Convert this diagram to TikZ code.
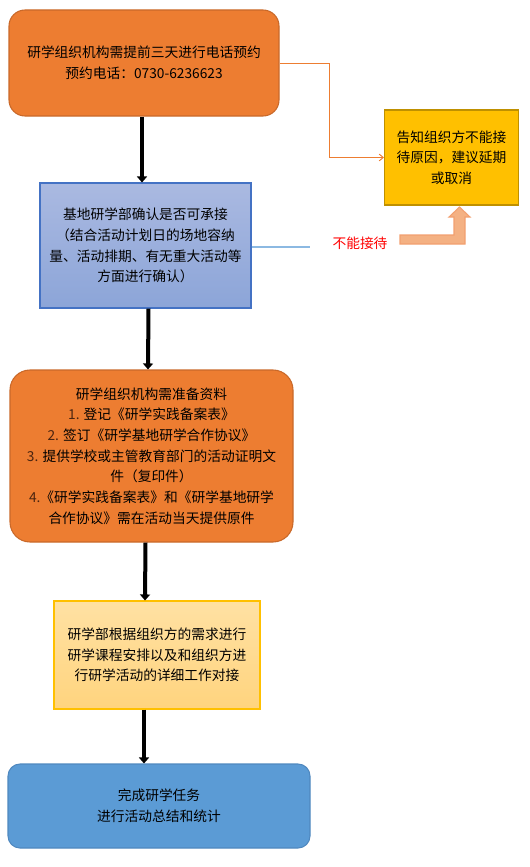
\documentclass[tikz,border=0pt]{standalone}
\usepackage{fontspec}
\newfontfamily\cjk{Noto Sans CJK SC}
\usetikzlibrary{arrows.meta}
\definecolor{orgfill}{HTML}{ED7D31}
\definecolor{orgdraw}{HTML}{C9692A}
\definecolor{bluetop}{HTML}{AAB9E1}
\definecolor{bluebot}{HTML}{8CA5D8}
\definecolor{bluedraw}{HTML}{4472C4}
\definecolor{goldfill}{HTML}{FFC000}
\definecolor{golddraw}{HTML}{BF9000}
\definecolor{ltop}{HTML}{FFE1A3}
\definecolor{lbot}{HTML}{FFD47E}
\definecolor{fin}{HTML}{5B9BD5}
\definecolor{findraw}{HTML}{4F88BF}
\definecolor{salmon}{HTML}{F4B183}
\definecolor{salmondraw}{HTML}{F2A070}
\definecolor{numcol}{HTML}{4A2410}
\def\u{0.75pt}
\begin{document}
\begin{tikzpicture}[x=0.75pt,y=-0.75pt,
  txt/.style={font=\cjk\fontsize{10.3}{15.5}\selectfont,align=center,inner sep=0pt},
  box/.style={txt,draw,line width=0.8pt},
  bigarrow/.style={line width=3pt,-{Triangle[width=7.5pt,length=4.5pt]}}]
\useasboundingbox (0,0) rectangle (529,867);
\node[box,fill=orgfill,draw=orgdraw,rounded corners=12pt,minimum width=270*\u,minimum height=106*\u] (b1) at (144,63)
  {研学组织机构需提前三天进行电话预约\\预约电话：0730-6236623};
\node[box,top color=bluetop,bottom color=bluebot,draw=bluedraw,minimum width=211*\u,minimum height=125*\u] (b2) at (145.5,245.5)
  {基地研学部确认是否可承接\\（结合活动计划日的场地容纳\\量、活动排期、有无重大活动等\\方面进行确认）};
\node[box,fill=goldfill,draw=golddraw,minimum width=134*\u,minimum height=95*\u] (br) at (451.5,157.5)
  {告知组织方不能接\\待原因，建议延期\\或取消};
\node[box,fill=orgfill,draw=orgdraw,rounded corners=15pt,minimum width=283*\u,minimum height=172*\u] (b3) at (151.5,456)
  {研学组织机构需准备资料\\\textcolor{numcol}{1.} 登记《研学实践备案表》\\\textcolor{numcol}{2.} 签订《研学基地研学合作协议》\\\textcolor{numcol}{3.} 提供学校或主管教育部门的活动证明文\\件（复印件）\\\textcolor{numcol}{4.}《研学实践备案表》和《研学基地研学\\合作协议》需在活动当天提供原件};
\node[box,top color=ltop,bottom color=lbot,draw=goldfill,minimum width=206*\u,minimum height=108*\u] (b4) at (157,655)
  {研学部根据组织方的需求进行\\研学课程安排以及和组织方进\\行研学活动的详细工作对接};
\node[box,fill=fin,draw=findraw,rounded corners=9pt,minimum width=302*\u,minimum height=84*\u] (b5) at (159,806)
  {完成研学任务\\进行活动总结和统计};
\node[txt,text=red] (no) at (360,243) {不能接待};
\coordinate (lend) at (310,247);
% connectors
\draw[bigarrow] ([xshift=-2*\u]b1.south) -- ([xshift=-3.5*\u]b2.north);
\draw[bigarrow] ([xshift=3*\u]b2.south) -- ([xshift=-3.5*\u]b3.north);
\draw[bigarrow] ([xshift=-6*\u]b3.south) -- ([xshift=-12*\u]b4.north);
\draw[bigarrow] ([xshift=-13*\u]b4.south) -- ([xshift=-15*\u]b5.north);
\draw[orgfill,line width=0.7pt,-{Straight Barb[length=3pt,width=5pt]}] (b1.east) -- ++(50,0) |- (br.west);
\draw[color=fin!70,line width=0.8pt] (b2.east |- lend) -- (lend);
% block bent arrow
\draw[fill=salmon,draw=salmondraw,line width=0.8pt]
  (400,235) -- (454,235) -- (454,217) -- (449,217) -- (459.5,207) -- (470,217) -- (465,217) -- (465,244) -- (400,244) -- cycle;
\end{tikzpicture}
\end{document}
